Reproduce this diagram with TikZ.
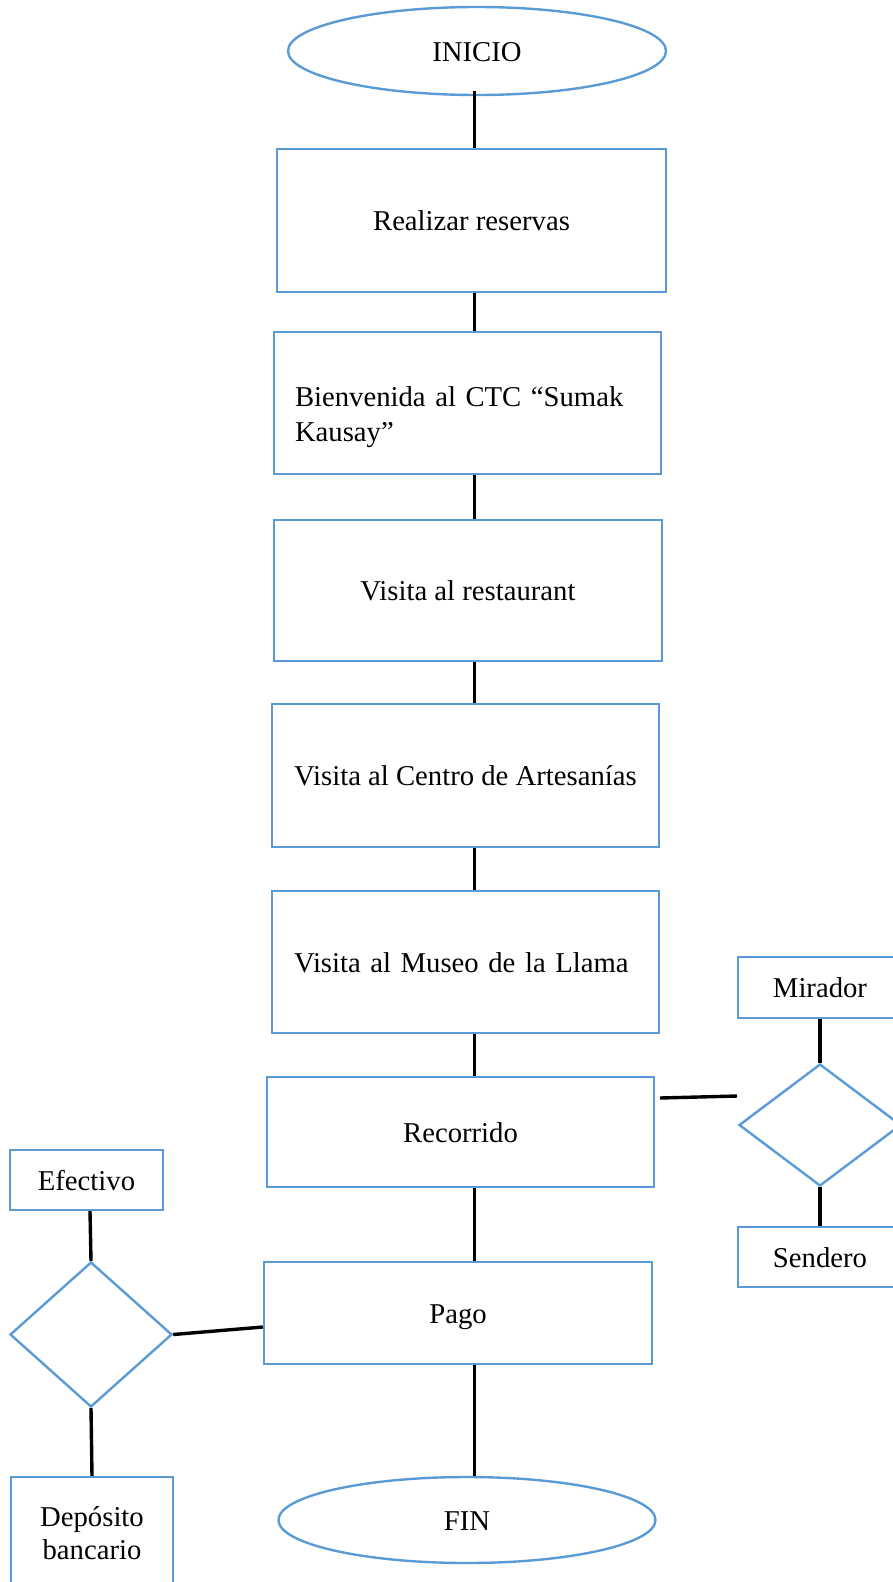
\documentclass[tikz,border=0pt]{standalone}
\usepackage{fontspec}
\setmainfont{Liberation Serif}
\usetikzlibrary{shapes.geometric}
\definecolor{flowblue}{HTML}{5B9BD5}
\begin{document}
\begin{tikzpicture}[x=1pt,y=-1pt,
  font=\fontsize{28.7}{34}\selectfont,
  shapeline/.style={draw=flowblue, line width=2.4pt, inner sep=0pt,
    text height=23pt, text depth=3pt},
  stepbox/.style={shapeline, rectangle},
  terminal/.style={shapeline, ellipse},
  choice/.style={shapeline, diamond},
  link/.style={draw=black, line width=3.4pt}]
\clip (0,0) rectangle (893,1582);

% main column
\coordinate (spine) at (474.5,0);
\node[terminal, minimum width=378pt, minimum height=88pt] (ini) at (477,51) {INICIO};
\node[stepbox, minimum width=389pt, minimum height=143pt] (b1) at (471.5,220.5) {Realizar reservas};
\node[stepbox, minimum width=387pt, minimum height=142pt, text width=345pt, align=left,
  font=\fontsize{28.7}{35}\selectfont, text depth=17pt] (b2) at (467.5,403)
  {\makebox[345pt][s]{Bienvenida al CTC “Sumak}\\Kausay”};
\node[stepbox, minimum width=388pt, minimum height=141pt] (b3) at (468,590.5) {Visita al restaurant};
\node[stepbox, minimum width=387pt, minimum height=143pt] (b4) at (465.5,775.5) {Visita al Centro de Artesanías};
\node[stepbox, minimum width=387pt, minimum height=142pt, text width=343pt, align=left] (b5) at (465.5,962) {Visita al Museo de la Llama};
\node[stepbox, minimum width=387pt, minimum height=110pt] (b6) at (460.5,1132) {Recorrido};
\node[stepbox, minimum width=388pt, minimum height=102pt] (pago) at (458,1313) {Pago};
\node[terminal, minimum width=377pt, minimum height=86pt] (fin) at (467,1520) {FIN};

% right branch
\node[stepbox, minimum width=164pt, minimum height=61pt] (mir) at (820,987.5) {Mirador};
\node[choice, minimum width=162pt, minimum height=122pt] (dr) at (820,1125) {};
\node[stepbox, minimum width=164pt, minimum height=60pt] (sen) at (820,1257) {Sendero};

% left branch
\node[stepbox, minimum width=153pt, minimum height=60pt] (ef) at (86.5,1180) {Efectivo};
\node[choice, minimum width=162pt, minimum height=145pt] (dl) at (91,1334.5) {};
\node[stepbox, minimum width=162pt, minimum height=111pt, align=center, anchor=north,
  font=\fontsize{28.7}{33}\selectfont, text height=57pt] (dep) at (92,1476)
  {Depósito\\bancario};

% connectors
\draw[link] ([yshift=5pt]ini.south -| spine) -- (b1.north -| spine);
\draw[link] (b1.south -| spine) -- (b2.north -| spine);
\draw[link] (b2.south -| spine) -- (b3.north -| spine);
\draw[link] (b3.south -| spine) -- (b4.north -| spine);
\draw[link] (b4.south -| spine) -- (b5.north -| spine);
\draw[link] (b5.south -| spine) -- (b6.north -| spine);
\draw[link] (b6.south -| spine) -- (pago.north -| spine);
\draw[link] (pago.south -| spine) -- (fin.north -| spine);

\coordinate (rA) at (660,1098);
\coordinate (rB) at (737,1096);
\draw[link] (rA) -- (rB);
\draw[link] (mir.south) -- (dr.north);
\draw[link] (dr.south) -- (sen.north);

\draw[link] ([xshift=3.5pt]ef.south) -- (dl.north);
\draw[link] (dl.east) -- ([yshift=-14pt]pago.west);
\draw[link] (dl.south) -- (dep.north);
\end{tikzpicture}
\end{document}
